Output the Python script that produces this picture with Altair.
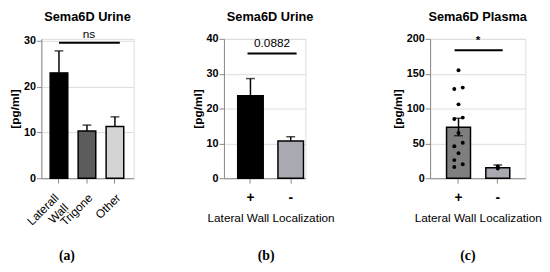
import altair as alt
import pandas as pd

FONT = "Liberation Sans"

# ---- Panel (a): Sema6D Urine by location ----
a_cats = ["Laterall Wall", "Trigone", "Other"]
a_means = [23.0, 10.3, 11.3]
a_err_lo = [23.0, 10.3, 11.3]
a_err_hi = [27.8, 11.6, 13.4]
a_colors = ["#000000", "#5c5c5c", "#d4d4d4"]
a_ticks = [0, 10, 20, 30]

# ---- Panel (b): Sema6D Urine by lateral wall localization ----
b_cats = ["+", "-"]
b_means = [23.7, 10.7]
b_err_lo = [23.7, 10.7]
b_err_hi = [28.6, 11.9]
b_colors = ["#000000", "#a9a9b1"]
b_ticks = [0, 10, 20, 30, 40]

# ---- Panel (c): Sema6D Plasma by lateral wall localization ----
c_cats = ["+", "-"]
c_means = [73.2, 15.0]
c_err_lo = [61.0, 15.0]
c_err_hi = [86.0, 19.0]
c_colors = ["#7f7f7f", "#a9a9b1"]
c_ticks = [0, 50, 100, 150, 200]
c_point_cat = ["+"] * 13 + ["-"] * 2
c_point_val = [155, 128, 130, 106, 85, 87, 65, 46, 51, 36, 26, 20, 16, 14, 17]
c_point_jit = [0, -1, 1, 0, -1, 1, 0, -1, 1, 0, -1, 1, -1, 0, 0]

titles = ["Sema6D Urine", "Sema6D Urine", "Sema6D Plasma"]
tags = ["(a)", "(b)", "(c)"]

H = 142


def panel(cats, means, lo, hi, colors, ymax, yticks, width, pi, po, al,
          title, title_dx, xtitle, xtitle_dx, xaxis_kw, sig, tag, tag_dx,
          points=None):
    df = pd.DataFrame({"cat": cats, "mean": means, "lo": lo, "hi": hi})
    xscale = alt.Scale(domain=cats, paddingInner=pi, paddingOuter=po, align=al)
    xaxis = alt.Axis(title=xtitle, titleX=width / 2 + xtitle_dx, **xaxis_kw)
    yscale = alt.Scale(domain=[0, ymax], nice=False)
    yaxis = alt.Axis(values=yticks, title="[pg/ml]", labelFontWeight="bold",
                     labelFontSize=11, titleFontWeight="bold", titleFontSize=12,
                     titlePadding=2, labelPadding=1)

    def X(f="cat:N"):
        return alt.X(f, scale=xscale, axis=xaxis, sort=cats)

    def Y(f):
        return alt.Y(f, scale=yscale, axis=yaxis)

    base = alt.Chart(df)
    bars = base.mark_bar(stroke="black", strokeWidth=1.5).encode(
        x=X(), y=Y("mean:Q"),
        color=alt.Color("cat:N", scale=alt.Scale(domain=cats, range=colors), legend=None))
    err = base.mark_rule(color="black", strokeWidth=1.5).encode(
        x=X(), y=Y("lo:Q"), y2="hi:Q")
    cap_hi = base.mark_tick(orient="horizontal", size=9, thickness=1.5, color="black").encode(
        x=X(), y=Y("hi:Q"))
    cap_lo = base.transform_filter("datum.lo < datum.mean").mark_tick(
        orient="horizontal", size=9, thickness=1.5, color="black").encode(
        x=X(), y=Y("lo:Q"))
    layers = [bars, err, cap_hi, cap_lo]
    if points is not None:
        pdf = pd.DataFrame(points)
        for j in [-1, 0, 1]:
            layers.append(alt.Chart(pdf).transform_filter(f"datum.jit == {j}").mark_circle(
                size=16, color="black", opacity=1, xOffset=4.3 * j).encode(
                x=X(), y=Y("val:Q")))
    sdf = pd.DataFrame({"cat": [sig["c1"]], "c2": [sig["c2"]], "y": [sig["y"]],
                        "ty": [sig["ty"]], "txt": [sig["txt"]], "tc": [sig["tc"]]})
    srule = alt.Chart(sdf).mark_rule(color="black", strokeWidth=2,
                                     xOffset=sig["o1"], x2Offset=sig["o2"]).encode(
        x=X(), x2="c2:N", y=Y("y:Q"))
    stext = alt.Chart(sdf).mark_text(font=FONT, fontSize=sig["fs"], fontWeight=sig["fw"],
                                     baseline="alphabetic", dx=sig["dx"], color="black").encode(
        x=X("tc:N"), y=Y("ty:Q"), text="txt:N")
    tdf = pd.DataFrame({"t": [tag], "title": [title]})
    tagt = alt.Chart(tdf).mark_text(
        font="Liberation Serif", fontSize=14, fontWeight="bold", baseline="alphabetic",
        color="black").encode(x=alt.value(width / 2 + tag_dx), y=alt.value(225), text="t:N")
    titt = alt.Chart(tdf).mark_text(
        font=FONT, fontSize=13, fontWeight="bold", baseline="alphabetic",
        color="black").encode(x=alt.value(width / 2 + title_dx), y=alt.value(-18),
                              text="title:N")
    layers += [srule, stext, tagt, titt]
    return alt.layer(*layers).properties(width=width, height=H)


a = panel(a_cats, a_means, a_err_lo, a_err_hi, a_colors, 30 * 142 / 140, a_ticks, 94,
          0.37, 0.334, 0.47, titles[0], 0, None, 0,
          dict(labelAngle=-45, labelAlign="right", labelBaseline="top", labelFontSize=12,
               labelPadding=9, labelExpr="split(datum.value, ' ')",
               labelOffset={"condition": {"test": "datum.value == 'Laterall Wall'", "value": -6}, "value": 0}),
          dict(c1="Laterall Wall", c2="Other", y=29.57, ty=30.6, txt="ns", tc="Trigone",
               o1=0, o2=5, dx=2, fs=12, fw="normal"),
          tags[0], -21)

b = panel(b_cats, b_means, b_err_lo, b_err_hi, b_colors, 40, b_ticks, 83,
          0.366, 0.195, 0.875, titles[1], 5.5, "Lateral Wall Localization", 6,
          dict(labelAngle=0, labelFontSize=14, labelFontWeight="bold", labelPadding=8,
               titleFontSize=12, titleFontWeight="normal", titlePadding=8),
          dict(c1="+", c2="-", y=35.8, ty=37.7, txt="0.0882", tc="+",
               o1=-3, o2=6, dx=22, fs=12, fw="normal"),
          tags[1], 1.5)

c = panel(c_cats, c_means, c_err_lo, c_err_hi, c_colors, 200, c_ticks, 97,
          0.39, 0.4075, 0.514, titles[2], 0, "Lateral Wall Localization", 0,
          dict(labelAngle=0, labelFontSize=14, labelFontWeight="bold", labelPadding=8,
               titleFontSize=12, titleFontWeight="normal", titlePadding=8),
          dict(c1="+", c2="-", y=183.5, ty=192, txt="*", tc="+",
               o1=-4, o2=5, dx=20, fs=12, fw="bold"),
          tags[2], -10,
          points=dict(cat=c_point_cat, val=c_point_val, jit=c_point_jit))

bc = alt.hconcat(b, c, spacing=57).resolve_scale(color="independent")
chart = alt.hconcat(a, bc, spacing=57).resolve_scale(color="independent").properties(
    padding={"left": 0, "top": 0, "right": 0, "bottom": 0}
).configure_view(stroke=None).configure_axis(
    domainColor="black", domainWidth=1.5, tickColor="black", tickWidth=1.5, tickSize=6,
    grid=False, labelColor="black", titleColor="black", labelFont=FONT, titleFont=FONT
).configure(background="white")

chart.save("out.html", embed_options={"renderer": "svg", "actions": False})
